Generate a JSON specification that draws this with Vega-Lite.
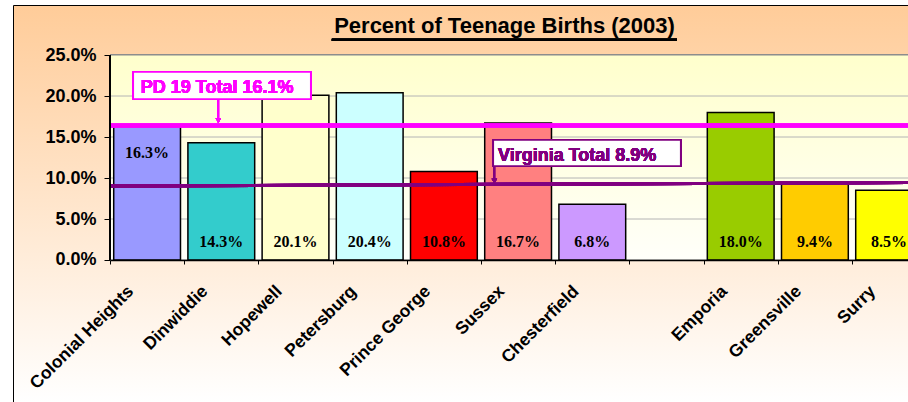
{
  "$schema": "https://vega.github.io/schema/vega-lite/v6.json",
  "width": 895,
  "height": 397,
  "autosize": {"type": "none"},
  "padding": {"left": 13, "top": 5, "right": 0, "bottom": 0},
  "background": "white",
  "config": {
    "view": {
      "stroke": "black",
      "strokeWidth": 1,
      "fill": {"gradient": "linear", "x1": 0, "y1": 0, "x2": 0, "y2": 1,
        "stops": [{"offset": 0, "color": "#FFCC99"}, {"offset": 1, "color": "#FFFFFF"}]}
    },
    "font": "Liberation Sans"
  },
  "title": {
    "text": "Percent of Teenage Births (2003)",
    "anchor": "middle",
    "frame": "group",
    "dx": 44,
    "offset": -33,
    "font": "Liberation Sans",
    "fontSize": 22,
    "fontWeight": "bold",
    "color": "black"
  },
  "data": {
    "values": [
      {"area": "Colonial Heights", "pct": 0.163},
      {"area": "Dinwiddie", "pct": 0.143},
      {"area": "Hopewell", "pct": 0.201},
      {"area": "Petersburg", "pct": 0.204},
      {"area": "Prince George", "pct": 0.108},
      {"area": "Sussex", "pct": 0.167},
      {"area": "Chesterfield", "pct": 0.068},
      {"area": "Emporia", "pct": 0.180},
      {"area": "Greensville", "pct": 0.094},
      {"area": "Surry", "pct": 0.085}
    ]
  },
  "layer": [
    {
      "mark": {"type": "rule", "color": "black", "strokeWidth": 2.2},
      "encoding": {
        "x": {"datum": "Hopewell", "type": "nominal", "bandPosition": 0.99},
        "x2": {"datum": " ", "bandPosition": 0.641},
        "y": {"datum": 0.2685, "type": "quantitative"}
      }
    },
    {
      "mark": {"type": "rect", "stroke": "#8C8C8C", "strokeWidth": 1,
        "fill": {"gradient": "linear", "x1": 0, "y1": 0, "x2": 0, "y2": 1,
          "stops": [{"offset": 0, "color": "#FFFFCC"}, {"offset": 1, "color": "#FFFFFA"}]}},
      "encoding": {
        "x": {"datum": "Colonial Heights", "type": "nominal", "bandPosition": 0},
        "x2": {"datum": "Surry", "bandPosition": 1},
        "y": {"datum": 0, "type": "quantitative"},
        "y2": {"datum": 0.25}
      }
    },
    {
      "data": {"values": [{"g": 0.05}, {"g": 0.10}, {"g": 0.15}, {"g": 0.20}]},
      "mark": {"type": "rule", "color": "#B4B4B4", "strokeWidth": 1},
      "encoding": {
        "x": {"datum": "Colonial Heights", "type": "nominal", "bandPosition": 0},
        "x2": {"datum": "Surry", "bandPosition": 1},
        "y": {"field": "g", "type": "quantitative"}
      }
    },
    {
      "mark": {"type": "bar", "width": {"band": 0.9}, "stroke": "black", "strokeWidth": 1.5},
      "encoding": {
        "x": {
          "field": "area", "type": "nominal", "sort": null,
          "scale": {"type": "band",
            "domain": ["Colonial Heights", "Dinwiddie", "Hopewell", "Petersburg", "Prince George", "Sussex", "Chesterfield", " ", "Emporia", "Greensville", "Surry"],
            "range": [97, 913.2], "paddingInner": 0, "paddingOuter": 0},
          "axis": {"title": null, "orient": "bottom", "offset": -142, "grid": false,
            "domainColor": "black", "domainWidth": 1.5, "tickColor": "black", "tickSize": 4, "tickWidth": 1,
            "tickBand": "extent", "labelAngle": -45, "labelAlign": "right", "labelBaseline": "top",
            "labelOffset": -23, "labelPadding": 18, "labelFont": "Liberation Sans", "labelFontSize": 17.5,
            "labelFontWeight": "bold", "labelColor": "black", "labelOverlap": false, "labelLimit": 0, "zindex": 1}
        },
        "y": {
          "field": "pct", "type": "quantitative",
          "scale": {"domain": [-0.173171, 0.310976], "nice": false, "zero": false},
          "axis": {"title": null, "orient": "left", "offset": -97, "values": [0, 0.05, 0.1, 0.15, 0.2, 0.25],
            "format": ".1%", "domain": false, "grid": false, "tickColor": "black", "tickSize": 6, "tickWidth": 1,
            "labelPadding": 8, "labelFont": "Liberation Sans", "labelFontSize": 18, "labelFontWeight": "bold",
            "labelColor": "black", "labelFlush": false, "labelOverlap": false}
        },
        "y2": {"datum": 0},
        "color": {
          "field": "area", "type": "nominal", "legend": null,
          "scale": {
            "domain": ["Colonial Heights", "Dinwiddie", "Hopewell", "Petersburg", "Prince George", "Sussex", "Chesterfield", "Emporia", "Greensville", "Surry"],
            "range": ["#9999FF", "#33CCCC", "#FFFFCC", "#CCFFFF", "#FF0000", "#FF8080", "#CC99FF", "#99CC00", "#FFCC00", "#FFFF00"]
          }
        }
      }
    },
    {
      "transform": [{"filter": "datum.area !== 'Colonial Heights'"}],
      "mark": {"type": "text", "font": "Liberation Serif", "fontWeight": "bold", "fontSize": 16, "baseline": "alphabetic", "dy": -13, "color": "black"},
      "encoding": {
        "x": {"field": "area", "type": "nominal"},
        "y": {"datum": 0, "type": "quantitative"},
        "text": {"field": "pct", "type": "quantitative", "format": ".1%"}
      }
    },
    {
      "transform": [{"filter": "datum.area === 'Colonial Heights'"}],
      "mark": {"type": "text", "font": "Liberation Serif", "fontWeight": "bold", "fontSize": 16, "baseline": "alphabetic", "dy": 32, "color": "black"},
      "encoding": {
        "x": {"field": "area", "type": "nominal"},
        "y": {"field": "pct", "type": "quantitative"},
        "text": {"field": "pct", "type": "quantitative", "format": ".1%"}
      }
    },
    {
      "mark": {"type": "rule", "color": "#FF00FF", "strokeWidth": 3.5},
      "encoding": {
        "x": {"datum": "Colonial Heights", "type": "nominal", "bandPosition": 0},
        "x2": {"datum": "Surry", "bandPosition": 1},
        "y": {"datum": 0.164, "type": "quantitative"}
      }
    },
    {
      "mark": {"type": "rule", "color": "#800080", "strokeWidth": 3},
      "encoding": {
        "x": {"datum": "Colonial Heights", "type": "nominal", "bandPosition": 0},
        "x2": {"datum": "Surry", "bandPosition": 1},
        "y": {"datum": 0.0902, "type": "quantitative"},
        "y2": {"datum": 0.0945}
      }
    },
    {
      "mark": {"type": "rule", "color": "black", "strokeWidth": 1.5},
      "encoding": {
        "x": {"datum": "Colonial Heights", "type": "nominal", "bandPosition": 0},
        "y": {"datum": 0, "type": "quantitative"},
        "y2": {"datum": 0.25}
      }
    },
    {
      "mark": {"type": "rect", "fill": "white", "stroke": "#FF00FF", "strokeWidth": 1.5},
      "encoding": {
        "x": {"datum": "Colonial Heights", "type": "nominal", "bandPosition": 0.314},
        "x2": {"datum": "Hopewell", "bandPosition": 0.705},
        "y": {"datum": 0.2293, "type": "quantitative"},
        "y2": {"datum": 0.1963}
      }
    },
    {
      "mark": {"type": "text", "text": "PD 19 Total 16.1%", "align": "left", "baseline": "alphabetic", "font": "Liberation Sans", "fontSize": 18, "fontWeight": "bold", "color": "#FF00FF"},
      "encoding": {
        "x": {"datum": "Colonial Heights", "type": "nominal", "bandPosition": 0.414},
        "y": {"datum": 0.2037, "type": "quantitative"}
      }
    },
    {
      "mark": {"type": "rule", "color": "#FF00FF", "strokeWidth": 1.5},
      "encoding": {
        "x": {"datum": "Dinwiddie", "type": "nominal", "bandPosition": 0.46},
        "y": {"datum": 0.1963, "type": "quantitative"},
        "y2": {"datum": 0.168}
      }
    },
    {
      "mark": {"type": "point", "shape": "triangle-down", "filled": true, "size": 30, "color": "#FF00FF", "opacity": 1},
      "encoding": {
        "x": {"datum": "Dinwiddie", "type": "nominal", "bandPosition": 0.46},
        "y": {"datum": 0.1701, "type": "quantitative"}
      }
    },
    {
      "mark": {"type": "rect", "fill": "white", "stroke": "#800080", "strokeWidth": 1.5},
      "encoding": {
        "x": {"datum": "Sussex", "type": "nominal", "bandPosition": 0.166},
        "x2": {"datum": " ", "bandPosition": 0.691},
        "y": {"datum": 0.1463, "type": "quantitative"},
        "y2": {"datum": 0.1146}
      }
    },
    {
      "mark": {"type": "text", "text": "Virginia Total 8.9%", "align": "left", "baseline": "alphabetic", "font": "Liberation Sans", "fontSize": 18, "fontWeight": "bold", "color": "#800080"},
      "encoding": {
        "x": {"datum": "Sussex", "type": "nominal", "bandPosition": 0.229},
        "y": {"datum": 0.1211, "type": "quantitative"}
      }
    },
    {
      "mark": {"type": "rule", "color": "#800080", "strokeWidth": 1.5},
      "encoding": {
        "x": {"datum": "Sussex", "type": "nominal", "bandPosition": 0.18},
        "y": {"datum": 0.1146, "type": "quantitative"},
        "y2": {"datum": 0.097}
      }
    },
    {
      "mark": {"type": "point", "shape": "triangle-down", "filled": true, "size": 30, "color": "#800080", "opacity": 1},
      "encoding": {
        "x": {"datum": "Sussex", "type": "nominal", "bandPosition": 0.18},
        "y": {"datum": 0.0963, "type": "quantitative"}
      }
    }
  ]
}
